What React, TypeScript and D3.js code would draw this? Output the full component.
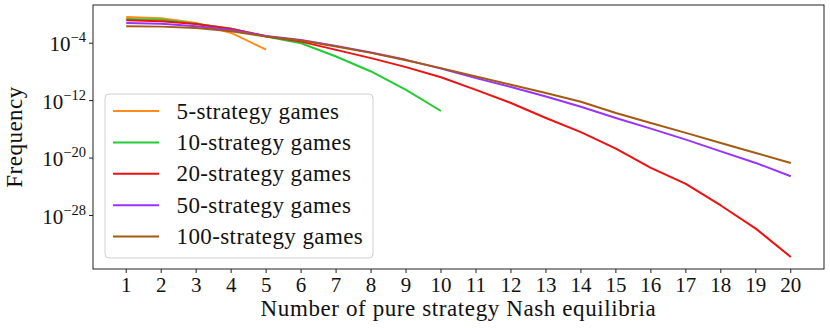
import React from "react";
import * as d3 from "d3";

const xCats = d3.range(1, 21);
const seriesNames = ["5-strategy games", "10-strategy games", "20-strategy games", "50-strategy games", "100-strategy games"];
const colors = ["#ff8c1a", "#22cc33", "#ee1111", "#9933ff", "#a55a14"];

const s5 = [4.47e-1, 2.95e-1, 6.6e-2, 2.7e-3, 1.3e-5];
const s10 = [2.37e-1, 1.9e-1, 5.2e-2, 1.07e-2, 8.3e-4, 1.0e-4, 1.4e-6, 1.15e-8, 3.2e-11, 3.6e-14];
const s20 = [1.55e-1, 1.15e-1, 4.8e-2, 1.07e-2, 9.3e-4, 1.66e-4, 1.17e-5, 8.3e-7, 4.7e-8, 1.8e-9, 3.2e-11, 4.7e-13, 3.8e-15, 4.1e-17, 2.1e-19, 4.4e-22, 2.5e-24, 2.5e-27, 1.5e-30, 1.66e-34];
const s50 = [6.6e-2, 5.2e-2, 2.3e-2, 7.1e-3, 1.02e-3, 2.9e-4, 4.2e-5, 5.2e-6, 4.8e-7, 2.9e-8, 1.38e-9, 7.8e-11, 3.8e-12, 1.41e-13, 3.8e-15, 1.26e-16, 3.7e-18, 8.7e-20, 2.1e-21, 2.95e-23];
const s100 = [2.3e-2, 2.04e-2, 1.33e-2, 4.7e-3, 8.7e-4, 2.45e-4, 3.6e-5, 4.5e-6, 4.1e-7, 3.4e-8, 2.3e-9, 1.62e-10, 1.15e-11, 7.1e-13, 1.9e-14, 7.8e-16, 3.2e-17, 1.29e-18, 5.2e-20, 2.1e-21];
const allSeries = [s5, s10, s20, s50, s100];

const yTickExps = [-4, -12, -20, -28];

const FONT = "'Liberation Serif', 'DejaVu Serif', serif";

export default function App() {
  const W = 830, H = 329;
  const m = { left: 93, right: 824, top: 5, bottom: 269 };

  const x = d3.scaleLinear().domain([0.05, 20.95]).range([m.left, m.right]);
  const allVals = allSeries.flat();
  const lmin = Math.log10(d3.min(allVals)!);
  const lmax = Math.log10(d3.max(allVals)!);
  const pad = (lmax - lmin) * 0.05;
  const y = d3.scaleLog().domain([Math.pow(10, lmin - pad), Math.pow(10, lmax + pad)]).range([m.bottom, m.top]);

  const line = d3.line<number>().x((_, i) => x(i + 1)).y((d) => y(d));

  const legX = 105, legY = 94, legW = 268, legH = 164;
  const rowY0 = 111, rowStep = 31.4;

  return (
    <svg width={W} height={H} style={{ position: "absolute", left: 0, top: 0, background: "#fff" }} fontFamily={FONT}>
      <rect x={0} y={0} width={W} height={H} fill="#fff" />
      <defs>
        <clipPath id="plotclip">
          <rect x={m.left} y={m.top} width={m.right - m.left} height={m.bottom - m.top} />
        </clipPath>
      </defs>
      <g clipPath="url(#plotclip)">
        {allSeries.map((s, i) => (
          <path key={i} d={line(s)!} fill="none" stroke={colors[i]} strokeWidth={2} strokeLinejoin="round" />
        ))}
      </g>
      <rect x={m.left} y={m.top} width={m.right - m.left} height={m.bottom - m.top} fill="none" stroke="#222" strokeWidth={1} />
      {xCats.map((c) => (
        <g key={c}>
          <line x1={x(c)} x2={x(c)} y1={m.bottom} y2={m.bottom + 4} stroke="#222" strokeWidth={1} />
          <text x={x(c)} y={292} textAnchor="middle" fontSize={21} fill="#111">{c}</text>
        </g>
      ))}
      {yTickExps.map((e) => (
        <g key={e}>
          <line x1={m.left - 4} x2={m.left} y1={y(Math.pow(10, e))} y2={y(Math.pow(10, e))} stroke="#222" strokeWidth={1} />
          <text x={86} y={y(Math.pow(10, e)) + 8} textAnchor="end" fontSize={21} fill="#111">
            10
            <tspan dy={-9} fontSize={14.5}>{"\u2212" + Math.abs(e)}</tspan>
          </text>
        </g>
      ))}
      <text x={(m.left + m.right) / 2} y={316} textAnchor="middle" fontSize={23} letterSpacing={0.6} fill="#111">
        Number of pure strategy Nash equilibria
      </text>
      <text transform={`translate(22, ${(m.top + m.bottom) / 2}) rotate(-90)`} textAnchor="middle" fontSize={23} letterSpacing={0.5} fill="#111">
        Frequency
      </text>
      <rect x={legX} y={legY} width={legW} height={legH} rx={4} ry={4} fill="#fff" fillOpacity={0.8} stroke="#d0d0d0" strokeWidth={1} />
      {seriesNames.map((n, i) => (
        <g key={n}>
          <line x1={113} x2={159} y1={rowY0 + i * rowStep} y2={rowY0 + i * rowStep} stroke={colors[i]} strokeWidth={2} />
          <text x={176.5} y={rowY0 + i * rowStep + 7.5} fontSize={23} letterSpacing={0.4} fill="#111">{n}</text>
        </g>
      ))}
    </svg>
  );
}
